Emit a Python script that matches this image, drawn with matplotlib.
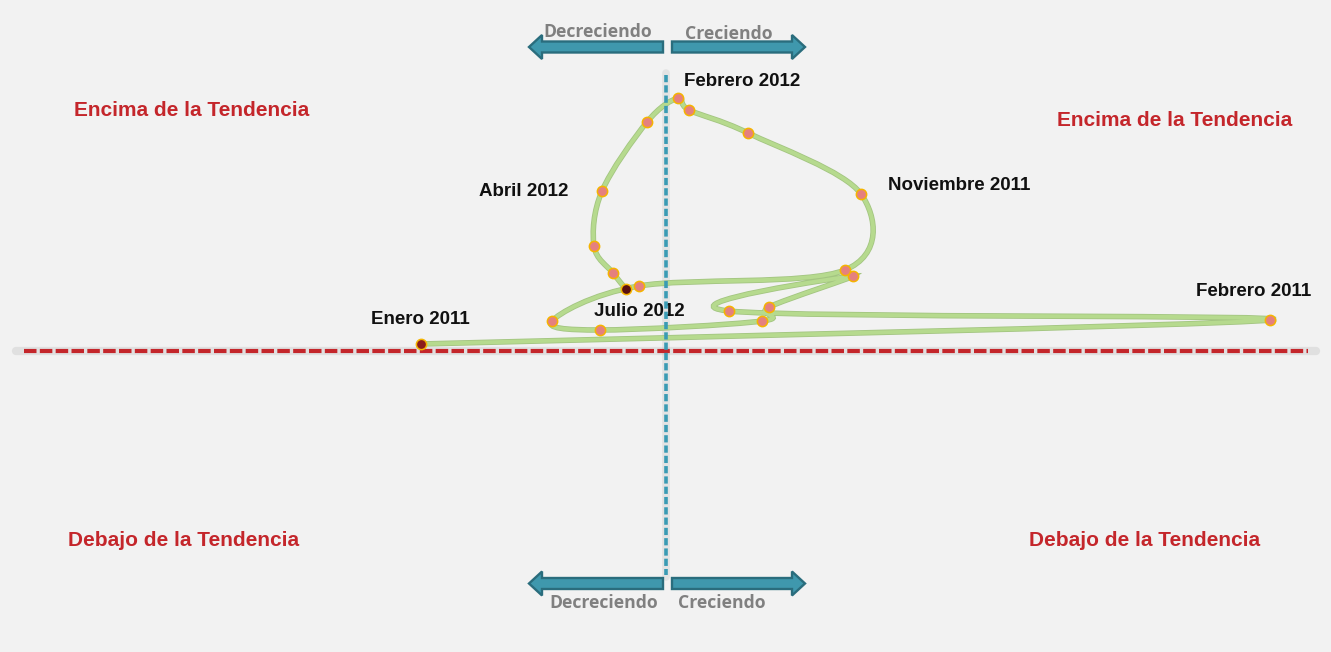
import numpy as np
import matplotlib
matplotlib.use('Agg')
import matplotlib.pyplot as plt
from matplotlib.path import Path
import matplotlib.patches as mpatches

# meses (x = variación / crecimiento, y = distancia a la tendencia)
months = ['Enero 2011', 'Febrero 2011', 'Marzo 2011', 'Abril 2011', 'Mayo 2011',
          'Junio 2011', 'Julio 2011', 'Agosto 2011', 'Septiembre 2011', 'Octubre 2011',
          'Noviembre 2011', 'Diciembre 2011', 'Enero 2012', 'Febrero 2012', 'Marzo 2012',
          'Abril 2012', 'Mayo 2012', 'Junio 2012', 'Julio 2012']
x_vals = [-24.5, 60.4, 6.3, 18.7, 10.3, 9.6, -6.6, -11.4, -2.7, 17.9,
          19.5, 8.2, 2.3, 1.2, -1.9, -6.4, -7.2, -5.3, -4.0]
y_vals = [0.7, 3.1, 4.0, 7.5, 4.4, 3.0, 2.1, 3.0, 6.5, 8.1,
          15.7, 21.8, 24.1, 25.3, 22.9, 16.0, 10.5, 7.8, 6.2]
labeled = {'Enero 2011': (-24.6, 3.1), 'Febrero 2011': (58.8, 5.9),
           'Noviembre 2011': (29.3, 16.5), 'Febrero 2012': (7.6, 27.0),
           'Abril 2012': (-14.2, 15.9), 'Julio 2012': (-2.7, 4.0)}
quadrants = [('Encima de la Tendencia', -47.4, 24.1), ('Encima de la Tendencia', 50.9, 23.1),
             ('Debajo de la Tendencia', -48.2, -18.9), ('Debajo de la Tendencia', 47.9, -18.9)]

RED = '#c4262b'
TEAL_DARK = '#2a6d7d'
TEAL = '#3f98ad'
GRAY_TXT = '#808080'


def smooth_path(xs, ys, k=1/6.):
    # bezier a traves de los puntos (como la linea suavizada de excel)
    p = np.column_stack([xs, ys])
    n = len(p)
    verts = [p[0]]
    codes = [Path.MOVETO]
    for i in range(n - 1):
        p0 = p[i - 1] if i > 0 else p[i]
        p3 = p[i + 2] if i + 2 < n else p[i + 1]
        c1 = p[i] + (p[i + 1] - p0) * k
        c2 = p[i + 1] - (p3 - p[i]) * k
        verts += [c1, c2, p[i + 1]]
        codes += [Path.CURVE4] * 3
    return Path(verts, codes)


fig = plt.figure(figsize=(13.31, 6.52), dpi=100)
fig.patch.set_facecolor('#f2f2f2')
ax = fig.add_axes([0, 0, 1, 1])
ax.set_facecolor('#f2f2f2')
ax.set_xlim(-66.6, 66.5)
ax.set_ylim(-30.1, 35.1)
ax.axis('off')

# linea de tendencia (horizontal) y linea de cero (vertical)
ax.plot([-65.0, 65.0], [0, 0], color='#b8b8b8', lw=6, alpha=0.3, solid_capstyle='round', zorder=1)
ax.plot([-64.2, 64.2], [0, 0], color=RED, lw=3.0, dashes=(3.0, 0.8), zorder=2)
ax.plot([0, 0], [27.8, -22.6], color='#b8b8b8', lw=5.5, alpha=0.25, solid_capstyle='round', zorder=1)
ax.plot([0, 0], [27.6, -22.4], color='#3a9bb4', lw=2.6, dashes=(2.0, 0.85), zorder=6)

# trayectoria
path = smooth_path(x_vals, y_vals)
ax.add_patch(mpatches.PathPatch(path, fc='none', ec='#a3c581', lw=4.0, zorder=3, capstyle='round'))
ax.add_patch(mpatches.PathPatch(path, fc='none', ec='#b6da8e', lw=2.8, zorder=3, capstyle='round'))

fills = ['#e5807e'] * len(months)
fills[0] = '#8b1c1c'
fills[-1] = '#5a1010'
for xv, yv, fc in zip(x_vals, y_vals, fills):
    ax.plot(xv, yv, 'o', ms=7.4, mfc=fc, mec='#f5b400', mew=1.1, zorder=7)

for m, (tx, ty) in labeled.items():
    ax.text(tx, ty, m, ha='center', va='center', fontsize=13.5, fontweight='bold',
            family='Liberation Sans', color='#111111', zorder=5)

for txt, tx, ty in quadrants:
    ax.text(tx, ty, txt, ha='center', va='center', fontsize=15, fontweight='bold',
            family='Liberation Sans', color=RED, zorder=5)

# flechas decreciendo / creciendo
for yc in (30.4, -23.25):
    ax.add_patch(mpatches.FancyArrow(-0.3, yc, -13.4, 0, width=1.1, head_width=2.4, head_length=1.3,
                                     length_includes_head=True, fc=TEAL, ec=TEAL_DARK, lw=1.7, zorder=3))
    ax.add_patch(mpatches.FancyArrow(0.6, yc, 13.3, 0, width=1.1, head_width=2.4, head_length=1.3,
                                     length_includes_head=True, fc=TEAL, ec=TEAL_DARK, lw=1.7, zorder=3))

ax.text(-6.8, 31.9, 'Decreciendo', ha='center', va='center', fontsize=12.7, fontweight='bold',
        family='Open Sans', color=GRAY_TXT)
ax.text(6.3, 31.7, 'Creciendo', ha='center', va='center', fontsize=12.7, fontweight='bold',
        family='Open Sans', color=GRAY_TXT)
ax.text(-6.2, -25.2, 'Decreciendo', ha='center', va='center', fontsize=12.7, fontweight='bold',
        family='Open Sans', color=GRAY_TXT)
ax.text(5.6, -25.2, 'Creciendo', ha='center', va='center', fontsize=12.7, fontweight='bold',
        family='Open Sans', color=GRAY_TXT)

fig.savefig('out.png', dpi=100, facecolor=fig.get_facecolor())
